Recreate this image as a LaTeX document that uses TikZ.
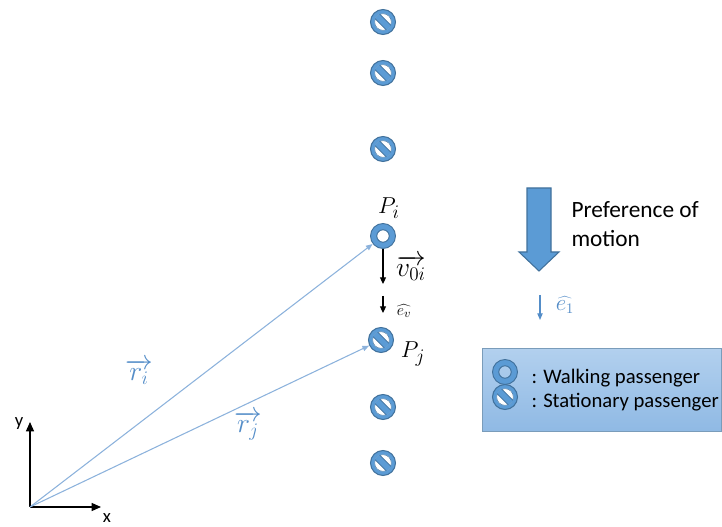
\documentclass[tikz,border=0pt]{standalone}
\usepackage{fontspec}
\newfontfamily\calib{Carlito}
\usetikzlibrary{arrows.meta}

\definecolor{paxblue}{RGB}{91,155,213}
\definecolor{paxedge}{RGB}{65,113,156}
\definecolor{vecblue}{RGB}{140,178,220}
\definecolor{lblblue}{RGB}{84,141,200}

\tikzset{every picture/.style={line width=0.75pt}}
\tikzset{
  vec/.style={draw=vecblue, line width=0.8pt, -{Triangle[length=5pt,width=4pt]}},
  blk/.style={draw=black, line width=0.8pt, -{Triangle[length=5pt,width=4.5pt]}},
  axis/.style={draw=black, line width=0.9pt, -{Triangle[length=7pt,width=6pt]}},
  txt/.style={font=\calib\fontsize{15.5}{18}\selectfont, inner sep=0pt},
  icon/.style={circle, minimum size=19pt, inner sep=0pt}
}

% walking passenger: ring
\newcommand{\walkpax}[1]{%
  \begin{scope}[shift={#1}]
    \fill[paxblue, even odd rule] (0,0) circle[radius=12.5] (0,0) circle[radius=6.2];
    \draw[paxedge, line width=0.7pt] (0,0) circle[radius=12.5] (0,0) circle[radius=6.2];
  \end{scope}}
% stationary passenger: no-sign
\newcommand{\standpax}[1]{%
  \begin{scope}[shift={#1}]
    \fill[paxblue] (0,0) circle[radius=12.5];
    \begin{scope}
      \clip (0,0) circle[radius=8.5];
      \filldraw[fill=white, draw=paxedge, line width=0.6pt] (0,0) circle[radius=8.5];
      \filldraw[fill=paxblue, draw=paxedge, line width=0.6pt, rotate=45] (-12,-3.3) rectangle (12,3.3);
    \end{scope}
    \draw[paxedge, line width=0.8pt] (0,0) circle[radius=12.5];
  \end{scope}}

\begin{document}
\begin{tikzpicture}[x=0.75pt,y=0.75pt,yscale=-1,xscale=1]
\useasboundingbox (0,0) rectangle (722,527);

%Column of passengers
\foreach \yy in {22,73,149,407,463}{\standpax{(383,\yy)}}
\walkpax{(383,236)}
\standpax{(381,340)}
\node [icon] (Pi) at (383,236) {};
\node [icon] (Pj) at (381,340) {};

%Axes
\coordinate (O) at (30,507);
\coordinate (Xtip) at (101,507);
\coordinate (Ytip) at (30,422);
\draw [axis] (O) -- (Xtip);
\draw [axis] (O) -- (Ytip);
\node [txt, font=\calib\fontsize{14}{16}\selectfont] (xlab) at (107,518) {x};
\node [txt, font=\calib\fontsize{14}{16}\selectfont] (ylab) at (19,424) {y};

%Position vectors
\draw [vec] (O) -- (Pi);
\draw [vec] (O) -- (Pj);
\node [inner sep=0pt, text=lblblue, font=\fontsize{20}{22}\selectfont] (ri) at (139,372) {$\overrightarrow{r_i}$};
\node [inner sep=0pt, text=lblblue, font=\fontsize{20}{22}\selectfont] (rj) at (248,426) {$\overrightarrow{r_j}$};

%Labels P
\node [inner sep=0pt, font=\fontsize{19}{22}\selectfont] (PiLab) at (389,208) {$P_i$};
\node [inner sep=0pt, font=\fontsize{19}{22}\selectfont] (PjLab) at (413,354) {$P_j$};

%Velocity and direction
\coordinate (v0end) at (383,284);
\draw [blk] (Pi.south) -- (v0end);
\node [inner sep=0pt, font=\fontsize{22}{24}\selectfont] (v0lab) at (411,268) {$\overrightarrow{v_{0i}}$};
\coordinate (evtop) at (383,296);
\coordinate (evend) at (383,313);
\draw [blk] (evtop) -- (evend);
\node [inner sep=0pt, font=\fontsize{12.5}{14}\selectfont] (evlab) at (404,311) {$\widehat{e_v}$};

%Block arrow
\draw [fill=paxblue, draw=paxedge, line width=0.8pt] (527,188) -- (551,188) -- (551,252) -- (559,252) -- (539,271) -- (519,252) -- (527,252) -- cycle;
\node [txt, anchor=west, font=\calib\fontsize{17.5}{20}\selectfont] (pref) at (571,210) {Preference of};
\node [txt, anchor=west, font=\calib\fontsize{17.5}{20}\selectfont] (motion) at (571,239) {motion};

%Unit vector e1
\coordinate (e1top) at (540,295);
\coordinate (e1end) at (540,320);
\draw [vec, draw=lblblue] (e1top) -- (e1end);
\node [inner sep=0pt, text=lblblue, font=\fontsize{16}{18}\selectfont] (e1lab) at (565,305) {$\widehat{e_1}$};

%Legend
\shade [top color={rgb,255:red,178;green,208;blue,238}, bottom color={rgb,255:red,143;green,185;blue,228}] (482,349) rectangle (721.5,432);
\draw [paxedge!70] (482,349) rectangle (721.5,432);
\walkpax{(505,372)}
\standpax{(505,397)}
\node [txt, anchor=west] (walk) at (531,378) {: Walking passenger};
\node [txt, anchor=west] (stand) at (531,402) {: Stationary passenger};

\end{tikzpicture}
\end{document}
